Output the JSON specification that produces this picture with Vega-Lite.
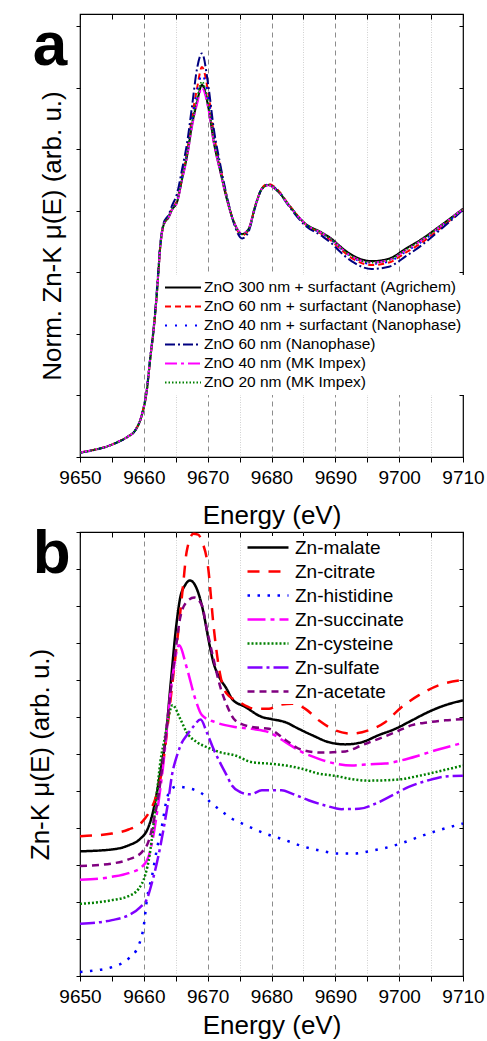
{
"$schema": "https://vega.github.io/schema/vega-lite/v6.json",
"padding": {"left": 26, "top": 12, "right": 5, "bottom": 0},
"spacing": 75,
"bounds": "flush",
"resolve": {"scale": {"x": "independent", "y": "independent", "color": "independent", "strokeDash": "independent"}, "legend": {"color": "independent", "strokeDash": "independent"}},
"config": {"font": "Liberation Sans", "view": {"stroke": "black", "strokeWidth": 1.2}, "legend": {"labelColor": "black"}},
"datasets": {
"a": [
{"s":"ZnO 300 nm + surfactant (Agrichem)","e":9650,"v":0.018},{"s":"ZnO 300 nm + surfactant (Agrichem)","e":9652,"v":0.028},{"s":"ZnO 300 nm + surfactant (Agrichem)","e":9654,"v":0.041},{"s":"ZnO 300 nm + surfactant (Agrichem)","e":9656,"v":0.062},{"s":"ZnO 300 nm + surfactant (Agrichem)","e":9657.5,"v":0.083},{"s":"ZnO 300 nm + surfactant (Agrichem)","e":9658.7,"v":0.110},{"s":"ZnO 300 nm + surfactant (Agrichem)","e":9659.7,"v":0.171},{"s":"ZnO 300 nm + surfactant (Agrichem)","e":9660.5,"v":0.276},{"s":"ZnO 300 nm + surfactant (Agrichem)","e":9661,"v":0.398},{"s":"ZnO 300 nm + surfactant (Agrichem)","e":9661.55,"v":0.520},{"s":"ZnO 300 nm + surfactant (Agrichem)","e":9662.06,"v":0.670},{"s":"ZnO 300 nm + surfactant (Agrichem)","e":9662.6,"v":0.861},{"s":"ZnO 300 nm + surfactant (Agrichem)","e":9663.1,"v":0.943},{"s":"ZnO 300 nm + surfactant (Agrichem)","e":9663.9,"v":0.975},{"s":"ZnO 300 nm + surfactant (Agrichem)","e":9664.4,"v":1.004},{"s":"ZnO 300 nm + surfactant (Agrichem)","e":9665.2,"v":1.036},{"s":"ZnO 300 nm + surfactant (Agrichem)","e":9666,"v":1.130},{"s":"ZnO 300 nm + surfactant (Agrichem)","e":9666.8,"v":1.227},{"s":"ZnO 300 nm + surfactant (Agrichem)","e":9667.55,"v":1.349},{"s":"ZnO 300 nm + surfactant (Agrichem)","e":9668.35,"v":1.443},{"s":"ZnO 300 nm + surfactant (Agrichem)","e":9669.1,"v":1.512},{"s":"ZnO 300 nm + surfactant (Agrichem)","e":9670.15,"v":1.414},{"s":"ZnO 300 nm + surfactant (Agrichem)","e":9670.95,"v":1.280},{"s":"ZnO 300 nm + surfactant (Agrichem)","e":9672,"v":1.158},{"s":"ZnO 300 nm + surfactant (Agrichem)","e":9673,"v":1.048},{"s":"ZnO 300 nm + surfactant (Agrichem)","e":9674.1,"v":0.955},{"s":"ZnO 300 nm + surfactant (Agrichem)","e":9675.4,"v":0.906},{"s":"ZnO 300 nm + surfactant (Agrichem)","e":9676.4,"v":0.926},{"s":"ZnO 300 nm + surfactant (Agrichem)","e":9677.5,"v":1.024},{"s":"ZnO 300 nm + surfactant (Agrichem)","e":9678.5,"v":1.089},{"s":"ZnO 300 nm + surfactant (Agrichem)","e":9679.45,"v":1.105},{"s":"ZnO 300 nm + surfactant (Agrichem)","e":9681.1,"v":1.077},{"s":"ZnO 300 nm + surfactant (Agrichem)","e":9682.7,"v":1.024},{"s":"ZnO 300 nm + surfactant (Agrichem)","e":9685.3,"v":0.948},{"s":"ZnO 300 nm + surfactant (Agrichem)","e":9687.9,"v":0.912},{"s":"ZnO 300 nm + surfactant (Agrichem)","e":9689.5,"v":0.885},{"s":"ZnO 300 nm + surfactant (Agrichem)","e":9690.5,"v":0.862},{"s":"ZnO 300 nm + surfactant (Agrichem)","e":9692.6,"v":0.821},{"s":"ZnO 300 nm + surfactant (Agrichem)","e":9695.7,"v":0.796},{"s":"ZnO 300 nm + surfactant (Agrichem)","e":9698.4,"v":0.806},{"s":"ZnO 300 nm + surfactant (Agrichem)","e":9701,"v":0.846},{"s":"ZnO 300 nm + surfactant (Agrichem)","e":9703.6,"v":0.887},{"s":"ZnO 300 nm + surfactant (Agrichem)","e":9706.2,"v":0.935},{"s":"ZnO 300 nm + surfactant (Agrichem)","e":9710,"v":1.009},
{"s":"ZnO 60 nm + surfactant (Nanophase)","e":9650,"v":0.018},{"s":"ZnO 60 nm + surfactant (Nanophase)","e":9652,"v":0.028},{"s":"ZnO 60 nm + surfactant (Nanophase)","e":9654,"v":0.041},{"s":"ZnO 60 nm + surfactant (Nanophase)","e":9656,"v":0.062},{"s":"ZnO 60 nm + surfactant (Nanophase)","e":9657.5,"v":0.083},{"s":"ZnO 60 nm + surfactant (Nanophase)","e":9658.7,"v":0.110},{"s":"ZnO 60 nm + surfactant (Nanophase)","e":9659.7,"v":0.172},{"s":"ZnO 60 nm + surfactant (Nanophase)","e":9660.5,"v":0.278},{"s":"ZnO 60 nm + surfactant (Nanophase)","e":9661,"v":0.400},{"s":"ZnO 60 nm + surfactant (Nanophase)","e":9661.55,"v":0.522},{"s":"ZnO 60 nm + surfactant (Nanophase)","e":9662.06,"v":0.672},{"s":"ZnO 60 nm + surfactant (Nanophase)","e":9662.6,"v":0.862},{"s":"ZnO 60 nm + surfactant (Nanophase)","e":9663.1,"v":0.944},{"s":"ZnO 60 nm + surfactant (Nanophase)","e":9663.9,"v":0.978},{"s":"ZnO 60 nm + surfactant (Nanophase)","e":9664.4,"v":1.008},{"s":"ZnO 60 nm + surfactant (Nanophase)","e":9665.2,"v":1.042},{"s":"ZnO 60 nm + surfactant (Nanophase)","e":9666,"v":1.142},{"s":"ZnO 60 nm + surfactant (Nanophase)","e":9666.8,"v":1.245},{"s":"ZnO 60 nm + surfactant (Nanophase)","e":9667.55,"v":1.380},{"s":"ZnO 60 nm + surfactant (Nanophase)","e":9668.35,"v":1.500},{"s":"ZnO 60 nm + surfactant (Nanophase)","e":9669.1,"v":1.585},{"s":"ZnO 60 nm + surfactant (Nanophase)","e":9670.15,"v":1.470},{"s":"ZnO 60 nm + surfactant (Nanophase)","e":9670.95,"v":1.315},{"s":"ZnO 60 nm + surfactant (Nanophase)","e":9672,"v":1.175},{"s":"ZnO 60 nm + surfactant (Nanophase)","e":9673,"v":1.055},{"s":"ZnO 60 nm + surfactant (Nanophase)","e":9674.1,"v":0.955},{"s":"ZnO 60 nm + surfactant (Nanophase)","e":9675.4,"v":0.900},{"s":"ZnO 60 nm + surfactant (Nanophase)","e":9676.4,"v":0.922},{"s":"ZnO 60 nm + surfactant (Nanophase)","e":9677.5,"v":1.024},{"s":"ZnO 60 nm + surfactant (Nanophase)","e":9678.5,"v":1.092},{"s":"ZnO 60 nm + surfactant (Nanophase)","e":9679.45,"v":1.110},{"s":"ZnO 60 nm + surfactant (Nanophase)","e":9681.1,"v":1.082},{"s":"ZnO 60 nm + surfactant (Nanophase)","e":9682.7,"v":1.026},{"s":"ZnO 60 nm + surfactant (Nanophase)","e":9685.3,"v":0.946},{"s":"ZnO 60 nm + surfactant (Nanophase)","e":9687.9,"v":0.905},{"s":"ZnO 60 nm + surfactant (Nanophase)","e":9689.5,"v":0.876},{"s":"ZnO 60 nm + surfactant (Nanophase)","e":9690.5,"v":0.852},{"s":"ZnO 60 nm + surfactant (Nanophase)","e":9692.6,"v":0.808},{"s":"ZnO 60 nm + surfactant (Nanophase)","e":9695.7,"v":0.780},{"s":"ZnO 60 nm + surfactant (Nanophase)","e":9698.4,"v":0.790},{"s":"ZnO 60 nm + surfactant (Nanophase)","e":9701,"v":0.830},{"s":"ZnO 60 nm + surfactant (Nanophase)","e":9703.6,"v":0.872},{"s":"ZnO 60 nm + surfactant (Nanophase)","e":9706.2,"v":0.925},{"s":"ZnO 60 nm + surfactant (Nanophase)","e":9710,"v":1.005},
{"s":"ZnO 40 nm + surfactant (Nanophase)","e":9650,"v":0.018},{"s":"ZnO 40 nm + surfactant (Nanophase)","e":9652,"v":0.028},{"s":"ZnO 40 nm + surfactant (Nanophase)","e":9654,"v":0.041},{"s":"ZnO 40 nm + surfactant (Nanophase)","e":9656,"v":0.062},{"s":"ZnO 40 nm + surfactant (Nanophase)","e":9657.5,"v":0.083},{"s":"ZnO 40 nm + surfactant (Nanophase)","e":9658.7,"v":0.110},{"s":"ZnO 40 nm + surfactant (Nanophase)","e":9659.7,"v":0.172},{"s":"ZnO 40 nm + surfactant (Nanophase)","e":9660.5,"v":0.278},{"s":"ZnO 40 nm + surfactant (Nanophase)","e":9661,"v":0.400},{"s":"ZnO 40 nm + surfactant (Nanophase)","e":9661.55,"v":0.522},{"s":"ZnO 40 nm + surfactant (Nanophase)","e":9662.06,"v":0.672},{"s":"ZnO 40 nm + surfactant (Nanophase)","e":9662.6,"v":0.862},{"s":"ZnO 40 nm + surfactant (Nanophase)","e":9663.1,"v":0.944},{"s":"ZnO 40 nm + surfactant (Nanophase)","e":9663.9,"v":0.978},{"s":"ZnO 40 nm + surfactant (Nanophase)","e":9664.4,"v":1.008},{"s":"ZnO 40 nm + surfactant (Nanophase)","e":9665.2,"v":1.040},{"s":"ZnO 40 nm + surfactant (Nanophase)","e":9666,"v":1.138},{"s":"ZnO 40 nm + surfactant (Nanophase)","e":9666.8,"v":1.240},{"s":"ZnO 40 nm + surfactant (Nanophase)","e":9667.55,"v":1.370},{"s":"ZnO 40 nm + surfactant (Nanophase)","e":9668.35,"v":1.485},{"s":"ZnO 40 nm + surfactant (Nanophase)","e":9669.1,"v":1.555},{"s":"ZnO 40 nm + surfactant (Nanophase)","e":9670.15,"v":1.452},{"s":"ZnO 40 nm + surfactant (Nanophase)","e":9670.95,"v":1.305},{"s":"ZnO 40 nm + surfactant (Nanophase)","e":9672,"v":1.170},{"s":"ZnO 40 nm + surfactant (Nanophase)","e":9673,"v":1.053},{"s":"ZnO 40 nm + surfactant (Nanophase)","e":9674.1,"v":0.955},{"s":"ZnO 40 nm + surfactant (Nanophase)","e":9675.4,"v":0.902},{"s":"ZnO 40 nm + surfactant (Nanophase)","e":9676.4,"v":0.924},{"s":"ZnO 40 nm + surfactant (Nanophase)","e":9677.5,"v":1.024},{"s":"ZnO 40 nm + surfactant (Nanophase)","e":9678.5,"v":1.090},{"s":"ZnO 40 nm + surfactant (Nanophase)","e":9679.45,"v":1.107},{"s":"ZnO 40 nm + surfactant (Nanophase)","e":9681.1,"v":1.080},{"s":"ZnO 40 nm + surfactant (Nanophase)","e":9682.7,"v":1.025},{"s":"ZnO 40 nm + surfactant (Nanophase)","e":9685.3,"v":0.946},{"s":"ZnO 40 nm + surfactant (Nanophase)","e":9687.9,"v":0.907},{"s":"ZnO 40 nm + surfactant (Nanophase)","e":9689.5,"v":0.879},{"s":"ZnO 40 nm + surfactant (Nanophase)","e":9690.5,"v":0.855},{"s":"ZnO 40 nm + surfactant (Nanophase)","e":9692.6,"v":0.812},{"s":"ZnO 40 nm + surfactant (Nanophase)","e":9695.7,"v":0.785},{"s":"ZnO 40 nm + surfactant (Nanophase)","e":9698.4,"v":0.794},{"s":"ZnO 40 nm + surfactant (Nanophase)","e":9701,"v":0.834},{"s":"ZnO 40 nm + surfactant (Nanophase)","e":9703.6,"v":0.876},{"s":"ZnO 40 nm + surfactant (Nanophase)","e":9706.2,"v":0.928},{"s":"ZnO 40 nm + surfactant (Nanophase)","e":9710,"v":1.006},
{"s":"ZnO 60 nm  (Nanophase)","e":9650,"v":0.017},{"s":"ZnO 60 nm  (Nanophase)","e":9652,"v":0.027},{"s":"ZnO 60 nm  (Nanophase)","e":9654,"v":0.040},{"s":"ZnO 60 nm  (Nanophase)","e":9656,"v":0.061},{"s":"ZnO 60 nm  (Nanophase)","e":9657.5,"v":0.082},{"s":"ZnO 60 nm  (Nanophase)","e":9658.7,"v":0.110},{"s":"ZnO 60 nm  (Nanophase)","e":9659.7,"v":0.174},{"s":"ZnO 60 nm  (Nanophase)","e":9660.5,"v":0.282},{"s":"ZnO 60 nm  (Nanophase)","e":9661,"v":0.405},{"s":"ZnO 60 nm  (Nanophase)","e":9661.55,"v":0.530},{"s":"ZnO 60 nm  (Nanophase)","e":9662.06,"v":0.685},{"s":"ZnO 60 nm  (Nanophase)","e":9662.6,"v":0.872},{"s":"ZnO 60 nm  (Nanophase)","e":9663.1,"v":0.950},{"s":"ZnO 60 nm  (Nanophase)","e":9663.9,"v":0.985},{"s":"ZnO 60 nm  (Nanophase)","e":9664.4,"v":1.020},{"s":"ZnO 60 nm  (Nanophase)","e":9665.2,"v":1.070},{"s":"ZnO 60 nm  (Nanophase)","e":9666,"v":1.170},{"s":"ZnO 60 nm  (Nanophase)","e":9666.8,"v":1.280},{"s":"ZnO 60 nm  (Nanophase)","e":9667.55,"v":1.425},{"s":"ZnO 60 nm  (Nanophase)","e":9668.35,"v":1.580},{"s":"ZnO 60 nm  (Nanophase)","e":9669.1,"v":1.640},{"s":"ZnO 60 nm  (Nanophase)","e":9670.15,"v":1.500},{"s":"ZnO 60 nm  (Nanophase)","e":9670.95,"v":1.335},{"s":"ZnO 60 nm  (Nanophase)","e":9672,"v":1.185},{"s":"ZnO 60 nm  (Nanophase)","e":9673,"v":1.060},{"s":"ZnO 60 nm  (Nanophase)","e":9674.1,"v":0.950},{"s":"ZnO 60 nm  (Nanophase)","e":9675.4,"v":0.888},{"s":"ZnO 60 nm  (Nanophase)","e":9676.4,"v":0.915},{"s":"ZnO 60 nm  (Nanophase)","e":9677.5,"v":1.020},{"s":"ZnO 60 nm  (Nanophase)","e":9678.5,"v":1.090},{"s":"ZnO 60 nm  (Nanophase)","e":9679.45,"v":1.105},{"s":"ZnO 60 nm  (Nanophase)","e":9681.1,"v":1.078},{"s":"ZnO 60 nm  (Nanophase)","e":9682.7,"v":1.020},{"s":"ZnO 60 nm  (Nanophase)","e":9685.3,"v":0.940},{"s":"ZnO 60 nm  (Nanophase)","e":9687.9,"v":0.898},{"s":"ZnO 60 nm  (Nanophase)","e":9689.5,"v":0.866},{"s":"ZnO 60 nm  (Nanophase)","e":9690.5,"v":0.840},{"s":"ZnO 60 nm  (Nanophase)","e":9692.6,"v":0.795},{"s":"ZnO 60 nm  (Nanophase)","e":9695.7,"v":0.764},{"s":"ZnO 60 nm  (Nanophase)","e":9698.4,"v":0.773},{"s":"ZnO 60 nm  (Nanophase)","e":9701,"v":0.815},{"s":"ZnO 60 nm  (Nanophase)","e":9703.6,"v":0.862},{"s":"ZnO 60 nm  (Nanophase)","e":9706.2,"v":0.918},{"s":"ZnO 60 nm  (Nanophase)","e":9710,"v":1.004},
{"s":"ZnO 40 nm (MK Impex)","e":9650,"v":0.018},{"s":"ZnO 40 nm (MK Impex)","e":9652,"v":0.028},{"s":"ZnO 40 nm (MK Impex)","e":9654,"v":0.041},{"s":"ZnO 40 nm (MK Impex)","e":9656,"v":0.062},{"s":"ZnO 40 nm (MK Impex)","e":9657.5,"v":0.083},{"s":"ZnO 40 nm (MK Impex)","e":9658.7,"v":0.110},{"s":"ZnO 40 nm (MK Impex)","e":9659.7,"v":0.172},{"s":"ZnO 40 nm (MK Impex)","e":9660.5,"v":0.277},{"s":"ZnO 40 nm (MK Impex)","e":9661,"v":0.400},{"s":"ZnO 40 nm (MK Impex)","e":9661.55,"v":0.521},{"s":"ZnO 40 nm (MK Impex)","e":9662.06,"v":0.671},{"s":"ZnO 40 nm (MK Impex)","e":9662.6,"v":0.860},{"s":"ZnO 40 nm (MK Impex)","e":9663.1,"v":0.942},{"s":"ZnO 40 nm (MK Impex)","e":9663.9,"v":0.974},{"s":"ZnO 40 nm (MK Impex)","e":9664.4,"v":1.003},{"s":"ZnO 40 nm (MK Impex)","e":9665.2,"v":1.034},{"s":"ZnO 40 nm (MK Impex)","e":9666,"v":1.127},{"s":"ZnO 40 nm (MK Impex)","e":9666.8,"v":1.222},{"s":"ZnO 40 nm (MK Impex)","e":9667.55,"v":1.342},{"s":"ZnO 40 nm (MK Impex)","e":9668.35,"v":1.435},{"s":"ZnO 40 nm (MK Impex)","e":9669.1,"v":1.500},{"s":"ZnO 40 nm (MK Impex)","e":9670.15,"v":1.408},{"s":"ZnO 40 nm (MK Impex)","e":9670.95,"v":1.278},{"s":"ZnO 40 nm (MK Impex)","e":9672,"v":1.157},{"s":"ZnO 40 nm (MK Impex)","e":9673,"v":1.048},{"s":"ZnO 40 nm (MK Impex)","e":9674.1,"v":0.956},{"s":"ZnO 40 nm (MK Impex)","e":9675.4,"v":0.908},{"s":"ZnO 40 nm (MK Impex)","e":9676.4,"v":0.927},{"s":"ZnO 40 nm (MK Impex)","e":9677.5,"v":1.024},{"s":"ZnO 40 nm (MK Impex)","e":9678.5,"v":1.089},{"s":"ZnO 40 nm (MK Impex)","e":9679.45,"v":1.104},{"s":"ZnO 40 nm (MK Impex)","e":9681.1,"v":1.077},{"s":"ZnO 40 nm (MK Impex)","e":9682.7,"v":1.024},{"s":"ZnO 40 nm (MK Impex)","e":9685.3,"v":0.947},{"s":"ZnO 40 nm (MK Impex)","e":9687.9,"v":0.910},{"s":"ZnO 40 nm (MK Impex)","e":9689.5,"v":0.882},{"s":"ZnO 40 nm (MK Impex)","e":9690.5,"v":0.858},{"s":"ZnO 40 nm (MK Impex)","e":9692.6,"v":0.815},{"s":"ZnO 40 nm (MK Impex)","e":9695.7,"v":0.790},{"s":"ZnO 40 nm (MK Impex)","e":9698.4,"v":0.800},{"s":"ZnO 40 nm (MK Impex)","e":9701,"v":0.840},{"s":"ZnO 40 nm (MK Impex)","e":9703.6,"v":0.882},{"s":"ZnO 40 nm (MK Impex)","e":9706.2,"v":0.932},{"s":"ZnO 40 nm (MK Impex)","e":9710,"v":1.008},
{"s":"ZnO 20 nm (MK Impex)","e":9650,"v":0.018},{"s":"ZnO 20 nm (MK Impex)","e":9652,"v":0.028},{"s":"ZnO 20 nm (MK Impex)","e":9654,"v":0.041},{"s":"ZnO 20 nm (MK Impex)","e":9656,"v":0.062},{"s":"ZnO 20 nm (MK Impex)","e":9657.5,"v":0.083},{"s":"ZnO 20 nm (MK Impex)","e":9658.7,"v":0.110},{"s":"ZnO 20 nm (MK Impex)","e":9659.7,"v":0.171},{"s":"ZnO 20 nm (MK Impex)","e":9660.5,"v":0.276},{"s":"ZnO 20 nm (MK Impex)","e":9661,"v":0.398},{"s":"ZnO 20 nm (MK Impex)","e":9661.55,"v":0.520},{"s":"ZnO 20 nm (MK Impex)","e":9662.06,"v":0.670},{"s":"ZnO 20 nm (MK Impex)","e":9662.6,"v":0.861},{"s":"ZnO 20 nm (MK Impex)","e":9663.1,"v":0.943},{"s":"ZnO 20 nm (MK Impex)","e":9663.9,"v":0.976},{"s":"ZnO 20 nm (MK Impex)","e":9664.4,"v":1.005},{"s":"ZnO 20 nm (MK Impex)","e":9665.2,"v":1.038},{"s":"ZnO 20 nm (MK Impex)","e":9666,"v":1.133},{"s":"ZnO 20 nm (MK Impex)","e":9666.8,"v":1.232},{"s":"ZnO 20 nm (MK Impex)","e":9667.55,"v":1.358},{"s":"ZnO 20 nm (MK Impex)","e":9668.35,"v":1.455},{"s":"ZnO 20 nm (MK Impex)","e":9669.1,"v":1.525},{"s":"ZnO 20 nm (MK Impex)","e":9670.15,"v":1.425},{"s":"ZnO 20 nm (MK Impex)","e":9670.95,"v":1.288},{"s":"ZnO 20 nm (MK Impex)","e":9672,"v":1.163},{"s":"ZnO 20 nm (MK Impex)","e":9673,"v":1.050},{"s":"ZnO 20 nm (MK Impex)","e":9674.1,"v":0.956},{"s":"ZnO 20 nm (MK Impex)","e":9675.4,"v":0.905},{"s":"ZnO 20 nm (MK Impex)","e":9676.4,"v":0.925},{"s":"ZnO 20 nm (MK Impex)","e":9677.5,"v":1.024},{"s":"ZnO 20 nm (MK Impex)","e":9678.5,"v":1.090},{"s":"ZnO 20 nm (MK Impex)","e":9679.45,"v":1.106},{"s":"ZnO 20 nm (MK Impex)","e":9681.1,"v":1.078},{"s":"ZnO 20 nm (MK Impex)","e":9682.7,"v":1.025},{"s":"ZnO 20 nm (MK Impex)","e":9685.3,"v":0.947},{"s":"ZnO 20 nm (MK Impex)","e":9687.9,"v":0.910},{"s":"ZnO 20 nm (MK Impex)","e":9689.5,"v":0.882},{"s":"ZnO 20 nm (MK Impex)","e":9690.5,"v":0.858},{"s":"ZnO 20 nm (MK Impex)","e":9692.6,"v":0.816},{"s":"ZnO 20 nm (MK Impex)","e":9695.7,"v":0.790},{"s":"ZnO 20 nm (MK Impex)","e":9698.4,"v":0.800},{"s":"ZnO 20 nm (MK Impex)","e":9701,"v":0.841},{"s":"ZnO 20 nm (MK Impex)","e":9703.6,"v":0.883},{"s":"ZnO 20 nm (MK Impex)","e":9706.2,"v":0.932},{"s":"ZnO 20 nm (MK Impex)","e":9710,"v":1.008}
],
"b": [
{"s":"Zn-malate","e":9650,"v":0.337},{"s":"Zn-malate","e":9655,"v":0.342},{"s":"Zn-malate","e":9657.6,"v":0.353},{"s":"Zn-malate","e":9659.45,"v":0.371},{"s":"Zn-malate","e":9660.5,"v":0.394},{"s":"Zn-malate","e":9661.3,"v":0.434},{"s":"Zn-malate","e":9662.06,"v":0.497},{"s":"Zn-malate","e":9662.85,"v":0.578},{"s":"Zn-malate","e":9663.36,"v":0.632},{"s":"Zn-malate","e":9664.2,"v":0.79},{"s":"Zn-malate","e":9665.15,"v":0.957},{"s":"Zn-malate","e":9665.67,"v":1.020},{"s":"Zn-malate","e":9666.45,"v":1.056},{"s":"Zn-malate","e":9667.23,"v":1.069},{"s":"Zn-malate","e":9668.28,"v":1.047},{"s":"Zn-malate","e":9669.32,"v":0.984},{"s":"Zn-malate","e":9670.1,"v":0.912},{"s":"Zn-malate","e":9670.88,"v":0.849},{"s":"Zn-malate","e":9671.93,"v":0.804},{"s":"Zn-malate","e":9672.98,"v":0.776},{"s":"Zn-malate","e":9673.81,"v":0.749},{"s":"Zn-malate","e":9675.9,"v":0.727},{"s":"Zn-malate","e":9678.51,"v":0.700},{"s":"Zn-malate","e":9680.08,"v":0.694},{"s":"Zn-malate","e":9682.16,"v":0.686},{"s":"Zn-malate","e":9684.26,"v":0.668},{"s":"Zn-malate","e":9686.35,"v":0.651},{"s":"Zn-malate","e":9688.96,"v":0.632},{"s":"Zn-malate","e":9691.56,"v":0.626},{"s":"Zn-malate","e":9694.18,"v":0.632},{"s":"Zn-malate","e":9696.79,"v":0.651},{"s":"Zn-malate","e":9699.39,"v":0.668},{"s":"Zn-malate","e":9702.01,"v":0.691},{"s":"Zn-malate","e":9704.63,"v":0.714},{"s":"Zn-malate","e":9707.23,"v":0.732},{"s":"Zn-malate","e":9710,"v":0.745},
{"s":"Zn-citrate","e":9650,"v":0.378},{"s":"Zn-citrate","e":9655,"v":0.385},{"s":"Zn-citrate","e":9657.6,"v":0.396},{"s":"Zn-citrate","e":9659.7,"v":0.416},{"s":"Zn-citrate","e":9661,"v":0.448},{"s":"Zn-citrate","e":9661.8,"v":0.479},{"s":"Zn-citrate","e":9662.6,"v":0.533},{"s":"Zn-citrate","e":9663.1,"v":0.587},{"s":"Zn-citrate","e":9664.4,"v":0.78},{"s":"Zn-citrate","e":9665.67,"v":0.976},{"s":"Zn-citrate","e":9666.2,"v":1.065},{"s":"Zn-citrate","e":9666.7,"v":1.146},{"s":"Zn-citrate","e":9667.75,"v":1.195},{"s":"Zn-citrate","e":9668.5,"v":1.193},{"s":"Zn-citrate","e":9669.1,"v":1.175},{"s":"Zn-citrate","e":9670.1,"v":1.10},{"s":"Zn-citrate","e":9670.9,"v":0.95},{"s":"Zn-citrate","e":9671.9,"v":0.82},{"s":"Zn-citrate","e":9672.9,"v":0.765},{"s":"Zn-citrate","e":9674.9,"v":0.741},{"s":"Zn-citrate","e":9677.5,"v":0.722},{"s":"Zn-citrate","e":9679.6,"v":0.722},{"s":"Zn-citrate","e":9681.1,"v":0.732},{"s":"Zn-citrate","e":9683.2,"v":0.736},{"s":"Zn-citrate","e":9685.3,"v":0.722},{"s":"Zn-citrate","e":9687.4,"v":0.691},{"s":"Zn-citrate","e":9690,"v":0.664},{"s":"Zn-citrate","e":9692.6,"v":0.655},{"s":"Zn-citrate","e":9695.2,"v":0.664},{"s":"Zn-citrate","e":9697.8,"v":0.686},{"s":"Zn-citrate","e":9700.4,"v":0.727},{"s":"Zn-citrate","e":9703.1,"v":0.759},{"s":"Zn-citrate","e":9706.2,"v":0.786},{"s":"Zn-citrate","e":9710,"v":0.800},
{"s":"Zn-histidine","e":9650,"v":0.011},{"s":"Zn-histidine","e":9652.4,"v":0.015},{"s":"Zn-histidine","e":9655,"v":0.024},{"s":"Zn-histidine","e":9657.6,"v":0.047},{"s":"Zn-histidine","e":9659.2,"v":0.083},{"s":"Zn-histidine","e":9660,"v":0.137},{"s":"Zn-histidine","e":9660.5,"v":0.209},{"s":"Zn-histidine","e":9661.3,"v":0.272},{"s":"Zn-histidine","e":9662.06,"v":0.344},{"s":"Zn-histidine","e":9662.85,"v":0.407},{"s":"Zn-histidine","e":9663.6,"v":0.479},{"s":"Zn-histidine","e":9664.4,"v":0.507},{"s":"Zn-histidine","e":9665.2,"v":0.512},{"s":"Zn-histidine","e":9666.2,"v":0.510},{"s":"Zn-histidine","e":9669.1,"v":0.493},{"s":"Zn-histidine","e":9670.4,"v":0.470},{"s":"Zn-histidine","e":9671.7,"v":0.452},{"s":"Zn-histidine","e":9673.8,"v":0.425},{"s":"Zn-histidine","e":9675.4,"v":0.412},{"s":"Zn-histidine","e":9679,"v":0.385},{"s":"Zn-histidine","e":9682.2,"v":0.367},{"s":"Zn-histidine","e":9684.8,"v":0.351},{"s":"Zn-histidine","e":9687.9,"v":0.338},{"s":"Zn-histidine","e":9690.5,"v":0.331},{"s":"Zn-histidine","e":9693.1,"v":0.331},{"s":"Zn-histidine","e":9695.2,"v":0.337},{"s":"Zn-histidine","e":9697.8,"v":0.346},{"s":"Zn-histidine","e":9700.4,"v":0.359},{"s":"Zn-histidine","e":9703.1,"v":0.376},{"s":"Zn-histidine","e":9706.2,"v":0.394},{"s":"Zn-histidine","e":9710,"v":0.412},
{"s":"Zn-succinate","e":9650,"v":0.260},{"s":"Zn-succinate","e":9655,"v":0.268},{"s":"Zn-succinate","e":9657.6,"v":0.278},{"s":"Zn-succinate","e":9659.7,"v":0.295},{"s":"Zn-succinate","e":9660.8,"v":0.326},{"s":"Zn-succinate","e":9661.5,"v":0.380},{"s":"Zn-succinate","e":9662.3,"v":0.470},{"s":"Zn-succinate","e":9662.85,"v":0.542},{"s":"Zn-succinate","e":9664.6,"v":0.822},{"s":"Zn-succinate","e":9665.5,"v":0.894},{"s":"Zn-succinate","e":9666.76,"v":0.831},{"s":"Zn-succinate","e":9668.06,"v":0.749},{"s":"Zn-succinate","e":9669.1,"v":0.705},{"s":"Zn-succinate","e":9671.2,"v":0.686},{"s":"Zn-succinate","e":9674.3,"v":0.673},{"s":"Zn-succinate","e":9676.9,"v":0.668},{"s":"Zn-succinate","e":9679.6,"v":0.659},{"s":"Zn-succinate","e":9682.2,"v":0.632},{"s":"Zn-succinate","e":9684.8,"v":0.605},{"s":"Zn-succinate","e":9687.4,"v":0.587},{"s":"Zn-succinate","e":9690,"v":0.574},{"s":"Zn-succinate","e":9692.6,"v":0.569},{"s":"Zn-succinate","e":9695.2,"v":0.572},{"s":"Zn-succinate","e":9697.8,"v":0.574},{"s":"Zn-succinate","e":9700.4,"v":0.583},{"s":"Zn-succinate","e":9703.1,"v":0.596},{"s":"Zn-succinate","e":9705.7,"v":0.610},{"s":"Zn-succinate","e":9710,"v":0.630},
{"s":"Zn-cysteine","e":9650,"v":0.195},{"s":"Zn-cysteine","e":9655,"v":0.205},{"s":"Zn-cysteine","e":9657.6,"v":0.216},{"s":"Zn-cysteine","e":9659.2,"v":0.236},{"s":"Zn-cysteine","e":9660.2,"v":0.272},{"s":"Zn-cysteine","e":9660.9,"v":0.326},{"s":"Zn-cysteine","e":9661.5,"v":0.407},{"s":"Zn-cysteine","e":9662.06,"v":0.497},{"s":"Zn-cysteine","e":9662.6,"v":0.580},{"s":"Zn-cysteine","e":9663.3,"v":0.645},{"s":"Zn-cysteine","e":9663.8,"v":0.695},{"s":"Zn-cysteine","e":9664.5,"v":0.732},{"s":"Zn-cysteine","e":9665.7,"v":0.695},{"s":"Zn-cysteine","e":9666.7,"v":0.659},{"s":"Zn-cysteine","e":9668.3,"v":0.632},{"s":"Zn-cysteine","e":9669.8,"v":0.619},{"s":"Zn-cysteine","e":9671.9,"v":0.605},{"s":"Zn-cysteine","e":9674.3,"v":0.596},{"s":"Zn-cysteine","e":9676.9,"v":0.578},{"s":"Zn-cysteine","e":9679.6,"v":0.574},{"s":"Zn-cysteine","e":9682.2,"v":0.569},{"s":"Zn-cysteine","e":9684.8,"v":0.560},{"s":"Zn-cysteine","e":9687.4,"v":0.547},{"s":"Zn-cysteine","e":9690,"v":0.541},{"s":"Zn-cysteine","e":9692.6,"v":0.532},{"s":"Zn-cysteine","e":9695.2,"v":0.528},{"s":"Zn-cysteine","e":9697.8,"v":0.529},{"s":"Zn-cysteine","e":9700.4,"v":0.532},{"s":"Zn-cysteine","e":9703.1,"v":0.541},{"s":"Zn-cysteine","e":9705.7,"v":0.551},{"s":"Zn-cysteine","e":9710,"v":0.569},
{"s":"Zn-sulfate","e":9650,"v":0.141},{"s":"Zn-sulfate","e":9655,"v":0.151},{"s":"Zn-sulfate","e":9657.6,"v":0.164},{"s":"Zn-sulfate","e":9659.45,"v":0.186},{"s":"Zn-sulfate","e":9660.5,"v":0.209},{"s":"Zn-sulfate","e":9661.3,"v":0.254},{"s":"Zn-sulfate","e":9662.3,"v":0.326},{"s":"Zn-sulfate","e":9663.1,"v":0.398},{"s":"Zn-sulfate","e":9663.8,"v":0.470},{"s":"Zn-sulfate","e":9664.4,"v":0.542},{"s":"Zn-sulfate","e":9665.2,"v":0.596},{"s":"Zn-sulfate","e":9666,"v":0.632},{"s":"Zn-sulfate","e":9666.7,"v":0.650},{"s":"Zn-sulfate","e":9667.7,"v":0.673},{"s":"Zn-sulfate","e":9668.9,"v":0.693},{"s":"Zn-sulfate","e":9669.85,"v":0.659},{"s":"Zn-sulfate","e":9670.9,"v":0.614},{"s":"Zn-sulfate","e":9671.9,"v":0.578},{"s":"Zn-sulfate","e":9672.9,"v":0.545},{"s":"Zn-sulfate","e":9673.8,"v":0.515},{"s":"Zn-sulfate","e":9675.1,"v":0.497},{"s":"Zn-sulfate","e":9676.7,"v":0.491},{"s":"Zn-sulfate","e":9678.5,"v":0.502},{"s":"Zn-sulfate","e":9681.6,"v":0.502},{"s":"Zn-sulfate","e":9683.2,"v":0.493},{"s":"Zn-sulfate","e":9685.8,"v":0.475},{"s":"Zn-sulfate","e":9688.4,"v":0.461},{"s":"Zn-sulfate","e":9691,"v":0.451},{"s":"Zn-sulfate","e":9693.7,"v":0.452},{"s":"Zn-sulfate","e":9696.3,"v":0.466},{"s":"Zn-sulfate","e":9698.9,"v":0.488},{"s":"Zn-sulfate","e":9701.5,"v":0.511},{"s":"Zn-sulfate","e":9704.6,"v":0.529},{"s":"Zn-sulfate","e":9707.8,"v":0.540},{"s":"Zn-sulfate","e":9710,"v":0.541},
{"s":"Zn-acetate","e":9650,"v":0.297},{"s":"Zn-acetate","e":9655,"v":0.304},{"s":"Zn-acetate","e":9657.6,"v":0.315},{"s":"Zn-acetate","e":9659.7,"v":0.335},{"s":"Zn-acetate","e":9660.8,"v":0.367},{"s":"Zn-acetate","e":9661.5,"v":0.416},{"s":"Zn-acetate","e":9662.3,"v":0.488},{"s":"Zn-acetate","e":9662.85,"v":0.560},{"s":"Zn-acetate","e":9664,"v":0.74},{"s":"Zn-acetate","e":9665.15,"v":0.903},{"s":"Zn-acetate","e":9665.67,"v":0.966},{"s":"Zn-acetate","e":9666.7,"v":1.011},{"s":"Zn-acetate","e":9667.9,"v":1.023},{"s":"Zn-acetate","e":9669.1,"v":1.002},{"s":"Zn-acetate","e":9669.85,"v":0.939},{"s":"Zn-acetate","e":9670.9,"v":0.858},{"s":"Zn-acetate","e":9671.9,"v":0.786},{"s":"Zn-acetate","e":9673,"v":0.732},{"s":"Zn-acetate","e":9674.3,"v":0.691},{"s":"Zn-acetate","e":9676.9,"v":0.673},{"s":"Zn-acetate","e":9679.6,"v":0.668},{"s":"Zn-acetate","e":9682.2,"v":0.638},{"s":"Zn-acetate","e":9684.8,"v":0.611},{"s":"Zn-acetate","e":9687.9,"v":0.604},{"s":"Zn-acetate","e":9691.6,"v":0.607},{"s":"Zn-acetate","e":9694.2,"v":0.624},{"s":"Zn-acetate","e":9696.8,"v":0.641},{"s":"Zn-acetate","e":9699.4,"v":0.659},{"s":"Zn-acetate","e":9702,"v":0.678},{"s":"Zn-acetate","e":9704.6,"v":0.686},{"s":"Zn-acetate","e":9707.2,"v":0.691},{"s":"Zn-acetate","e":9710,"v":0.694}
]
},
"vconcat": [
{
"width": 383, "height": 443,
"data": {"name": "a"},
"layer": [
{"mark": {"type": "line", "strokeWidth": 2, "interpolate": "monotone", "clip": true},
 "encoding": {
  "x": {"field": "e", "type": "quantitative", "scale": {"domain": [9650, 9710], "nice": false, "zero": false},
   "axis": {"orient": "bottom", "values": [9650,9655,9660,9665,9670,9675,9680,9685,9690,9695,9700,9705,9710], "format": "d", "labelExpr": "datum.value % 10 == 0 ? datum.label : ''", "labelFlush": false, "labelOverlap": false, "labelBound": false, "labelFontSize": 19, "labelColor": "black", "labelPadding": 6, "tickSize": 5, "tickColor": "black", "domain": false, "title": "Energy (eV)", "titleFontSize": 26, "titleFontWeight": "normal", "titleColor": "black", "titlePadding": 15,
    "grid": true, "gridWidth": 1,
    "gridColor": {"condition": {"test": "datum.value % 10 == 0", "value": "#8c8c8c"}, "value": "#d0d0d0"},
    "gridDash": {"condition": {"test": "datum.value % 10 == 0", "value": [5, 4]}, "value": [1, 1.5]},
    "gridOpacity": {"condition": {"test": "datum.value == 9650 || datum.value == 9655 || datum.value == 9710", "value": 0}, "value": 1}}},
  "y": {"field": "v", "type": "quantitative", "scale": {"domain": [0, 1.8], "nice": false, "zero": false},
   "axis": {"orient": "left", "values": [0,0.25,0.5,0.75,1,1.25,1.5,1.75], "labels": false, "tickSize": 4, "tickColor": "black", "domain": false, "grid": false, "title": "Norm. Zn-K μ(E) (arb. u.)", "titleFontSize": 26, "titleFontWeight": "normal", "titleColor": "black", "titlePadding": 10}},
  "color": {"field": "s", "type": "nominal",
   "scale": {"domain": ["ZnO 300 nm + surfactant (Agrichem)","ZnO 60 nm + surfactant (Nanophase)","ZnO 40 nm + surfactant (Nanophase)","ZnO 60 nm  (Nanophase)","ZnO 40 nm (MK Impex)","ZnO 20 nm (MK Impex)"], "range": ["#000000","#ff0000","#0000ff","#000080","#ff00ff","#008000"]},
   "legend": {"orient": "none", "legendX": 81, "legendY": 261, "title": null, "symbolType": "stroke", "symbolSize": 1296, "symbolStrokeWidth": 2, "labelFontSize": 15.5, "labelLimit": 400, "labelOffset": 2, "rowPadding": 0, "clipHeight": 18.8, "padding": 3, "fillColor": "white"}},
  "strokeDash": {"field": "s", "type": "nominal",
   "scale": {"domain": ["ZnO 300 nm + surfactant (Agrichem)","ZnO 60 nm + surfactant (Nanophase)","ZnO 40 nm + surfactant (Nanophase)","ZnO 60 nm  (Nanophase)","ZnO 40 nm (MK Impex)","ZnO 20 nm (MK Impex)"], "range": [[1,0],[6,4],[2,8],[10,3,2,3],[12,4,3,4],[1.5,2]]},
   "legend": {"orient": "none", "legendX": 81, "legendY": 261, "title": null, "symbolType": "stroke", "symbolSize": 1296, "symbolStrokeWidth": 2, "labelFontSize": 15.5, "labelLimit": 400, "labelOffset": 2, "rowPadding": 0, "clipHeight": 18.8, "padding": 3, "fillColor": "white"}}
 }},
{"mark": {"type": "line", "strokeOpacity": 0},
 "encoding": {
  "x": {"field": "e", "type": "quantitative", "axis": {"orient": "top", "values": [9650,9655,9660,9665,9670,9675,9680,9685,9690,9695,9700,9705,9710], "labels": false, "tickSize": -5, "tickColor": "black", "domain": false, "grid": false, "title": null}},
  "y": {"field": "v", "type": "quantitative", "axis": {"orient": "right", "values": [0,0.25,0.5,0.75,1,1.25,1.5,1.75], "labels": false, "tickSize": -4, "tickColor": "black", "domain": false, "grid": false, "title": null}},
  "detail": {"field": "s"}
 }},
{"data": {"values": [{}]},
 "mark": {"type": "text", "fontSize": 62, "fontWeight": "bold", "align": "left", "baseline": "alphabetic", "color": "black", "clip": false},
 "encoding": {
  "x": {"datum": 9642.6, "type": "quantitative", "axis": null},
  "y": {"datum": 1.593, "type": "quantitative", "axis": null},
  "text": {"value": "a"}
 }}
],
"resolve": {"axis": {"x": "independent", "y": "independent"}}
},
{
"width": 383, "height": 444,
"data": {"name": "b"},
"layer": [
{"mark": {"type": "line", "strokeWidth": 2.5, "interpolate": "monotone", "clip": true},
 "encoding": {
  "x": {"field": "e", "type": "quantitative", "scale": {"domain": [9650, 9710], "nice": false, "zero": false},
   "axis": {"orient": "bottom", "values": [9650,9655,9660,9665,9670,9675,9680,9685,9690,9695,9700,9705,9710], "format": "d", "labelExpr": "datum.value % 10 == 0 ? datum.label : ''", "labelFlush": false, "labelOverlap": false, "labelBound": false, "labelFontSize": 19, "labelColor": "black", "labelPadding": 6, "tickSize": 5, "tickColor": "black", "domain": false, "title": "Energy (eV)", "titleFontSize": 26, "titleFontWeight": "normal", "titleColor": "black", "titlePadding": 6,
    "grid": true, "gridWidth": 1,
    "gridColor": {"condition": {"test": "datum.value % 10 == 0", "value": "#8c8c8c"}, "value": "#d0d0d0"},
    "gridDash": {"condition": {"test": "datum.value % 10 == 0", "value": [5, 4]}, "value": [1, 1.5]},
    "gridOpacity": {"condition": {"test": "datum.value == 9650 || datum.value == 9655 || datum.value == 9710", "value": 0}, "value": 1}}},
  "y": {"field": "v", "type": "quantitative", "scale": {"domain": [0, 1.2], "nice": false, "zero": false},
   "axis": {"orient": "left", "values": [0,0.1,0.2,0.3,0.4,0.5,0.6,0.7,0.8,0.9,1,1.1,1.2], "labels": false, "tickSize": 4, "tickColor": "black", "domain": false, "grid": false, "title": "Zn-K μ(E) (arb. u.)", "titleFontSize": 26, "titleFontWeight": "normal", "titleColor": "black", "titlePadding": 22}},
  "color": {"field": "s", "type": "nominal",
   "scale": {"domain": ["Zn-malate","Zn-citrate","Zn-histidine","Zn-succinate","Zn-cysteine","Zn-sulfate","Zn-acetate"], "range": ["#000000","#ff0000","#0000ff","#ff00ff","#008000","#8000ff","#800080"]},
   "legend": {"orient": "none", "legendX": 166, "legendY": 4, "title": null, "symbolType": "stroke", "symbolSize": 1681, "symbolStrokeWidth": 2.5, "labelFontSize": 19, "labelLimit": 400, "labelOffset": 5, "rowPadding": 0, "clipHeight": 23.2, "padding": 0, "fillColor": "white"}},
  "strokeDash": {"field": "s", "type": "nominal",
   "scale": {"domain": ["Zn-malate","Zn-citrate","Zn-histidine","Zn-succinate","Zn-cysteine","Zn-sulfate","Zn-acetate"], "range": [[1,0],[12,9],[2.5,7.5],[18,5,4,5],[2,2],[15,4,3,4],[7,5]]},
   "legend": {"orient": "none", "legendX": 166, "legendY": 4, "title": null, "symbolType": "stroke", "symbolSize": 1681, "symbolStrokeWidth": 2.5, "labelFontSize": 19, "labelLimit": 400, "labelOffset": 5, "rowPadding": 0, "clipHeight": 23.2, "padding": 0, "fillColor": "white"}}
 }},
{"mark": {"type": "line", "strokeOpacity": 0},
 "encoding": {
  "x": {"field": "e", "type": "quantitative", "axis": {"orient": "top", "values": [9650,9655,9660,9665,9670,9675,9680,9685,9690,9695,9700,9705,9710], "labels": false, "tickSize": -5, "tickColor": "black", "domain": false, "grid": false, "title": null}},
  "y": {"field": "v", "type": "quantitative", "axis": {"orient": "right", "values": [0,0.1,0.2,0.3,0.4,0.5,0.6,0.7,0.8,0.9,1,1.1,1.2], "labels": false, "tickSize": -4, "tickColor": "black", "domain": false, "grid": false, "title": null}},
  "detail": {"field": "s"}
 }},
{"data": {"values": [{}]},
 "mark": {"type": "text", "fontSize": 62, "fontWeight": "bold", "align": "left", "baseline": "alphabetic", "color": "black", "clip": false},
 "encoding": {
  "x": {"datum": 9642.6, "type": "quantitative", "axis": null},
  "y": {"datum": 1.089, "type": "quantitative", "axis": null},
  "text": {"value": "b"}
 }}
],
"resolve": {"axis": {"x": "independent", "y": "independent"}}
}
]
}
